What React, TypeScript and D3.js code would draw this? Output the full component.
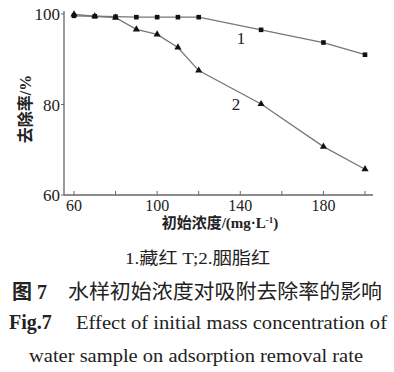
import React from "react";
import * as d3 from "d3";

const concentrations1 = [60, 70, 80, 90, 100, 110, 120, 150, 180, 200];
const removal1 = [99.6, 99.5, 99.4, 99.3, 99.3, 99.3, 99.3, 96.5, 93.7, 91.0];
const concentrations2 = [60, 70, 80, 90, 100, 110, 120, 150, 180, 200];
const removal2 = [99.9, 99.5, 99.2, 96.6, 95.5, 92.6, 87.5, 80.1, 70.7, 65.7];
const xTicks = [60, 80, 100, 120, 140, 160, 180, 200];
const xTickLabels = [60, 100, 140, 180];
const yTicks = [60, 80, 100];

const W = 394;
const H = 372;
const serif = "'Liberation Serif', 'Times New Roman', 'Noto Sans CJK SC', serif";
const ink = "#222";

export default function App() {
  const x = d3.scaleLinear().domain([60, 200]).range([74, 365]);
  const y = d3.scaleLinear().domain([60, 100]).range([195, 14]);
  const axisLeft = 64;
  const axisRight = 373;
  const axisBottom = 195;
  const axisTop = 11;

  const s1 = concentrations1.map((c, i) => [c, removal1[i]] as [number, number]);
  const s2 = concentrations2.map((c, i) => [c, removal2[i]] as [number, number]);
  const line = d3
    .line<[number, number]>()
    .x((d) => x(d[0]))
    .y((d) => y(d[1]));
  const tri = d3.symbol().type(d3.symbolTriangle).size(22)() as string;

  return (
    <div style={{ position: "absolute", left: 0, top: 0, width: W, height: H, background: "#fff" }}>
      <svg width={W} height={H} style={{ display: "block" }}>
        <rect width={W} height={H} fill="#fff" />
        {/* axes */}
        <line x1={axisLeft} x2={axisLeft} y1={axisTop} y2={axisBottom} stroke="#666" strokeWidth={1.3} />
        <line x1={axisLeft} x2={axisRight} y1={axisBottom} y2={axisBottom} stroke="#666" strokeWidth={1.3} />
        {xTicks.map((t) => (
          <line key={"xt" + t} x1={x(t)} x2={x(t)} y1={axisBottom} y2={axisBottom - 4} stroke="#666" strokeWidth={1} />
        ))}
        {yTicks.map((t) => (
          <line key={"yt" + t} x1={axisLeft} x2={axisLeft - 3} y1={y(t)} y2={y(t)} stroke="#666" strokeWidth={1} />
        ))}
        {xTickLabels.map((t) => (
          <text key={"xl" + t} x={x(t)} y={211} textAnchor="middle" fontFamily={serif} fontSize={16} fill={ink}>
            {t}
          </text>
        ))}
        {yTicks.map((t) => (
          <text key={"yl" + t} x={axisLeft - 4} y={y(t) + 6} textAnchor="end" fontFamily={serif} fontSize={17} fill={ink}>
            {t}
          </text>
        ))}
        <text
          transform="translate(31,109) rotate(-90)"
          textAnchor="middle"
          fontFamily={serif}
          fontSize={16}
          fontWeight="bold"
          fill={ink}
        >
          去除率/%
        </text>
        <text x={220} y={228} textAnchor="middle" fontFamily={serif} fontSize={15} fontWeight="bold" fill={ink}>
          初始浓度/(mg·L
          <tspan dy={-5} fontSize={9}>-1</tspan>
          <tspan dy={5}>)</tspan>
        </text>

        {/* series */}
        <path d={line(s1) as string} fill="none" stroke="#777" strokeWidth={1.3} />
        <path d={line(s2) as string} fill="none" stroke="#777" strokeWidth={1.3} />
        {s1.map((d, i) => (
          <rect key={"sq" + i} x={x(d[0]) - 2.3} y={y(d[1]) - 2.3} width={4.6} height={4.6} fill="#111" />
        ))}
        {s2.map((d, i) => (
          <path key={"tr" + i} d={tri} transform={`translate(${x(d[0])},${y(d[1])})`} fill="#111" />
        ))}
        <text x={241} y={44} textAnchor="middle" fontFamily={serif} fontSize={17} fill={ink}>1</text>
        <text x={236} y={110} textAnchor="middle" fontFamily={serif} fontSize={17} fill={ink}>2</text>

        {/* captions */}
        <text x={125} y={264} fontFamily={serif} fontSize={17} fill={ink} textLength={145} lengthAdjust="spacingAndGlyphs">
          1.藏红 T;2.胭脂红
        </text>
        <text x={12} y={299} fontFamily={serif} fontSize={20} fontWeight="bold" fill={ink}>
          图 7
        </text>
        <text x={68} y={299} fontFamily={serif} fontSize={20} fill={ink} textLength={314} lengthAdjust="spacingAndGlyphs">
          水样初始浓度对吸附去除率的影响
        </text>
        <text x={9} y={329} fontFamily={serif} fontSize={20} fontWeight="bold" fill={ink}>
          Fig.7
        </text>
        <text x={76} y={329} fontFamily={serif} fontSize={19} fill={ink} textLength={311} lengthAdjust="spacingAndGlyphs">
          Effect of initial mass concentration of
        </text>
        <text x={29} y={362} fontFamily={serif} fontSize={19} fill={ink} textLength={334} lengthAdjust="spacingAndGlyphs">
          water sample on adsorption removal rate
        </text>
      </svg>
    </div>
  );
}
